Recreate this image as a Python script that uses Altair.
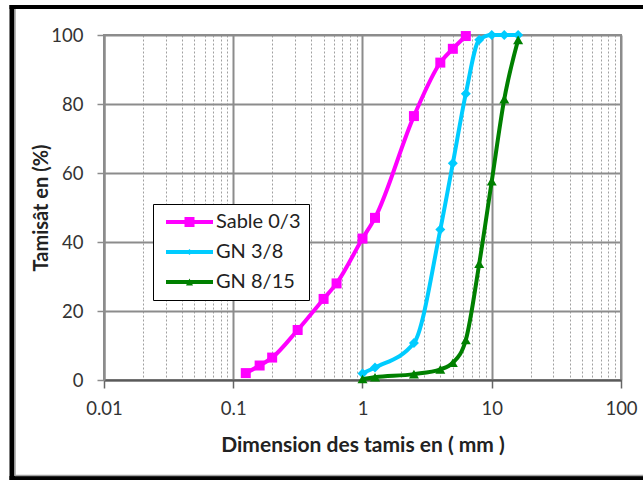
import altair as alt
import pandas as pd

# ---- data ----
series_names = ["Sable 0/3", "GN 3/8", "GN 8/15"]
series_colors = ["#FF00FF", "#00CCFF", "#008000"]

sable_x = [0.125, 0.16, 0.2, 0.315, 0.5, 0.63, 1, 1.25, 2.5, 4, 5, 6.3]
sable_y = [2.0, 4.2, 6.5, 14.5, 23.5, 28.0, 41.0, 47.0, 76.5, 92.0, 96.0, 99.7]

gn38_x = [1, 1.25, 2.5, 4, 5, 6.3, 8, 10, 12.5, 16]
gn38_y = [1.9, 3.6, 10.7, 43.6, 62.8, 83.0, 98.6, 100, 100, 100]

gn815_x = [1, 1.25, 2.5, 4, 5, 6.3, 8, 10, 12.5, 16]
gn815_y = [0.3, 0.8, 1.7, 3.1, 5.0, 11.6, 33.7, 57.6, 81.4, 98.6]

x_ticks = [0.01, 0.02, 0.03, 0.04, 0.05, 0.06, 0.07, 0.08, 0.09,
           0.1, 0.2, 0.3, 0.4, 0.5, 0.6, 0.7, 0.8, 0.9,
           1, 2, 3, 4, 5, 6, 7, 8, 9,
           10, 20, 30, 40, 50, 60, 70, 80, 90, 100]
y_ticks = [0, 20, 40, 60, 80, 100]

x_title = "Dimension des tamis en ( mm )"
y_title = "Tamisât en (%)"

rows = []
for name, xs, ys in zip(series_names, [sable_x, gn38_x, gn815_x], [sable_y, gn38_y, gn815_y]):
    for xv, yv in zip(xs, ys):
        rows.append({"serie": name, "d": xv, "t": yv})
df = pd.DataFrame(rows)

FONT = "Lato"
W, H = 517, 345
major = "abs(log(datum.value)/LN10 - round(log(datum.value)/LN10)) < 0.01"

x_axis = alt.Axis(
    values=x_ticks,
    labelExpr=f"({major}) ? format(datum.value, '~g') : ''",
    labelOverlap=False, labelFlush=False,
    grid=True,
    gridColor={"condition": {"test": major, "value": "#8c8c8c"}, "value": "#a0a0a0"},
    gridWidth={"condition": {"test": major, "value": 2}, "value": 1},
    gridDash={"condition": {"test": major, "value": []}, "value": [2, 2]},
    tickOpacity={"condition": {"test": major, "value": 1}, "value": 0},
    tickSize=8, tickColor="#666666", tickWidth=1.5,
    domainColor="#595959", domainWidth=2,
    labelFontSize=18.5, labelColor="#333333", labelPadding=11,
    title=x_title, titleFontSize=21, titleFontWeight="bold", titleColor="#222222",
    titlePadding=17,
)
y_axis = alt.Axis(
    values=y_ticks, grid=True, gridColor="#8c8c8c", gridWidth=2,
    tickSize=7, tickColor="#8c8c8c", tickWidth=1.5,
    domainColor="#8c8c8c", domainWidth=2,
    labelFontSize=18.5, labelColor="#333333", labelPadding=14, labelFlush=False,
    title=y_title, titleFontSize=20, titleFontWeight="bold", titleColor="#222222",
    titlePadding=-1,
)

xscale = alt.Scale(type="log", domain=[0.01, 100])
yscale = alt.Scale(domain=[0, 100])
color_scale = alt.Scale(domain=series_names, range=series_colors)

base = alt.Chart(df).encode(
    x=alt.X("d:Q", scale=xscale, axis=x_axis),
    y=alt.Y("t:Q", scale=yscale, axis=y_axis),
)

lines = base.mark_line(strokeWidth=4, interpolate="monotone").encode(
    color=alt.Color("serie:N", scale=color_scale, legend=None)
)
points = base.mark_point(filled=True, opacity=1, size=100).encode(
    color=alt.Color("serie:N", scale=color_scale, legend=None),
    shape=alt.Shape("serie:N", scale=alt.Scale(domain=series_names,
                                                range=["square", "diamond", "triangle-up"]),
                    legend=None),
)

# legend symbols: a line segment with the marker in the middle
legend_paths = [
    "M-1,-0.4H8.4V0.4H-1Z M2.7,-1H4.7V1H2.7Z",
    "M-1,-0.4H8.4V0.4H-1Z M3.1,0L3.7,-0.6L4.3,0L3.7,0.6Z",
    "M-1,-0.4H8.4V0.4H-1Z M3.0,0.7L3.7,-0.7L4.4,0.7Z",
]
leg_props = dict(
    title=None, orient="none", legendX=49, legendY=169,
    fillColor="white", strokeColor="black", padding=8,
    labelFont=FONT, labelFontSize=20, labelColor="#222222", labelOffset=35,
    labelLimit=300, symbolSize=100, symbolStrokeWidth=0, rowPadding=10,
)
legend_layer = base.transform_filter("false").mark_point(filled=True, opacity=1, size=100).encode(
    color=alt.Color("serie:N", scale=color_scale, legend=alt.Legend(**leg_props)),
    shape=alt.Shape("serie:N", scale=alt.Scale(domain=series_names, range=legend_paths),
                    legend=alt.Legend(**leg_props)),
)

one = pd.DataFrame({"k": [0]})
frame_left = alt.Chart(one).mark_rule(color="black", strokeWidth=5).encode(
    x=alt.value(-92), y=alt.value(-30), y2=alt.value(446))
frame_top = alt.Chart(one).mark_rule(color="black", strokeWidth=4).encode(
    y=alt.value(-28), x=alt.value(-94.5), x2=alt.value(560))
frame_bottom = alt.Chart(one).mark_rule(color="black", strokeWidth=4).encode(
    y=alt.value(443), x=alt.value(-94.5), x2=alt.value(560))
inner_left = alt.Chart(one).mark_rule(color="#a0a0a0", strokeWidth=1.5).encode(
    x=alt.value(-89), y=alt.value(-26), y2=alt.value(440.5))
inner_bottom = alt.Chart(one).mark_rule(color="#a0a0a0", strokeWidth=1.5).encode(
    y=alt.value(440.5), x=alt.value(-89), x2=alt.value(560))

chart = alt.layer(
    lines, points, legend_layer,
    frame_left, frame_top, frame_bottom, inner_left, inner_bottom,
).resolve_scale(
    color="independent", shape="independent"
).properties(
    width=W, height=H,
    padding={"left": 104, "top": 35, "right": 22, "bottom": 100},
    autosize=alt.AutoSizeParams(type="none"),
    background="white",
).configure(font=FONT).configure_view(stroke="#8c8c8c", strokeWidth=2)

chart.save("out.html", embed_options={"renderer": "svg", "actions": False})
